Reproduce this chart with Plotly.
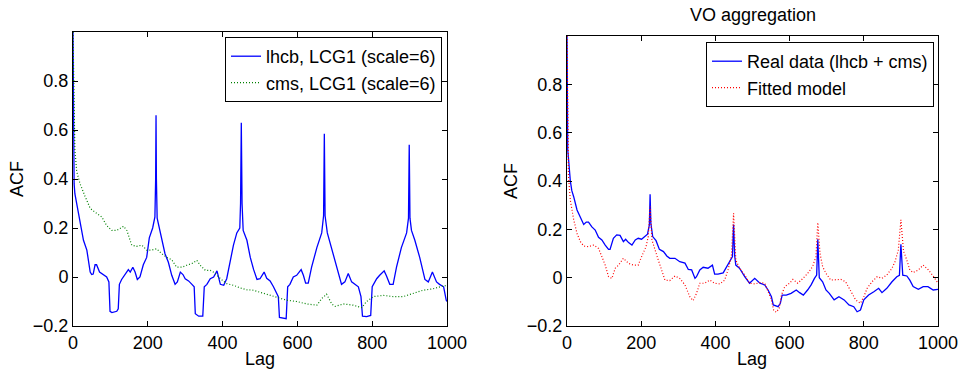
import plotly.graph_objects as go

# ---------------- data ----------------
lhcb_lag = [0, 1, 2, 3, 5, 14, 20, 28, 37, 46, 50, 54, 59, 63, 71, 81, 90, 96, 99, 104, 117, 121, 124, 130,
            139, 148, 153, 160, 166, 172, 179, 188, 197, 204, 213, 219, 221, 222, 223, 225, 228, 237, 246,
            255, 264, 273, 279, 287, 294, 300, 309, 318, 324, 327, 336, 347, 351, 358, 367, 376, 385, 394,
            403, 411, 420, 429, 438, 446, 448, 450, 452, 455, 465, 474, 483, 492, 500, 511, 518, 527, 536,
            545, 549, 552, 563, 570, 574, 580, 589, 598, 610, 616, 622, 629, 638, 652, 665, 670, 672, 674,
            680, 692, 705, 718, 727, 736, 745, 754, 763, 770, 774, 785, 796, 800, 812, 820, 832, 838, 847,
            856, 865, 878, 892, 897, 899, 901, 905, 914, 927, 941, 950, 961, 972, 980, 991, 998, 1000]
lhcb_acf = [1.0, 0.6, 0.42, 0.38, 0.34, 0.27, 0.21, 0.15, 0.11, 0.02, 0.01, 0.012, 0.05, 0.05, 0.02, 0.01,
            0.0, -0.02, -0.14, -0.145, -0.14, -0.13, -0.03, -0.01, 0.01, 0.03, 0.02, 0.04, 0.02, -0.01, 0.0,
            0.05, 0.08, 0.16, 0.2, 0.245, 0.4, 0.66, 0.4, 0.24, 0.22, 0.15, 0.095, 0.06, 0.007, -0.03, -0.02,
            0.02, 0.01, -0.007, -0.016, -0.03, -0.04, -0.15, -0.16, -0.16, -0.04, -0.03, -0.007, 0.0, 0.025,
            -0.03, -0.034, -0.007, 0.06, 0.13, 0.18, 0.2, 0.3, 0.63, 0.3, 0.19, 0.15, 0.08, 0.03, -0.01,
            -0.007, 0.02, -0.005, -0.016, -0.04, -0.07, -0.08, -0.165, -0.17, -0.17, -0.04, -0.03, 0.0,
            0.007, 0.03, 0.007, -0.025, -0.025, 0.04, 0.12, 0.18, 0.25, 0.585, 0.25, 0.18, 0.11, 0.04,
            -0.03, -0.02, 0.014, -0.02, -0.03, -0.04, -0.08, -0.16, -0.162, -0.157, -0.04, -0.007, 0.007,
            0.025, 0.005, -0.03, -0.03, 0.04, 0.12, 0.18, 0.24, 0.54, 0.24, 0.19, 0.15, 0.08, -0.01, -0.02,
            0.02, -0.02, -0.03, -0.04, -0.095, -0.1]

cms_lag = [0, 2, 5, 10, 19, 32, 46, 63, 77, 90, 104, 117, 135, 144, 157, 170, 184, 197, 210, 224, 237, 251,
           264, 277, 291, 304, 318, 331, 340, 354, 367, 380, 394, 411, 429, 446, 464, 482, 500, 518, 545,
           572, 598, 625, 652, 665, 678, 692, 701, 723, 749, 772, 785, 803, 830, 856, 883, 909, 936, 963,
           980, 994, 1000]
cms_acf = [1.0, 0.7, 0.52, 0.43, 0.38, 0.33, 0.28, 0.26, 0.245, 0.21, 0.19, 0.19, 0.207, 0.19, 0.13, 0.125,
           0.13, 0.11, 0.11, 0.115, 0.095, 0.08, 0.07, 0.04, 0.04, 0.048, 0.055, 0.068, 0.048, 0.027, 0.027,
           0.016, -0.007, -0.027, -0.034, -0.044, -0.052, -0.054, -0.062, -0.068, -0.08, -0.095, -0.10,
           -0.11, -0.115, -0.088, -0.07, -0.11, -0.12, -0.11, -0.115, -0.125, -0.10, -0.08, -0.075, -0.08,
           -0.08, -0.068, -0.054, -0.048, -0.04, -0.035, -0.04]

real_lag = [0, 1, 2, 9, 13, 18, 27, 36, 45, 52, 58, 67, 76, 85, 94, 103, 112, 116, 125, 134, 143, 152, 158,
            166, 175, 184, 192, 201, 210, 217, 222, 224, 226, 231, 240, 249, 260, 269, 277, 291, 304, 318,
            327, 336, 345, 349, 358, 367, 380, 392, 398, 407, 421, 430, 439, 446, 449, 452, 455, 465, 479,
            492, 506, 520, 533, 542, 551, 556, 569, 575, 580, 591, 604, 618, 627, 637, 649, 658, 667, 673,
            676, 680, 689, 698, 707, 720, 733, 747, 760, 773, 782, 791, 800, 813, 827, 840, 849, 862, 876,
            889, 896, 900, 905, 916, 924, 933, 947, 960, 973, 987, 1000]
real_acf = [1.0, 0.7, 0.53, 0.40, 0.36, 0.335, 0.28, 0.25, 0.22, 0.23, 0.23, 0.21, 0.197, 0.167, 0.156, 0.135,
            0.117, 0.117, 0.163, 0.177, 0.175, 0.149, 0.159, 0.145, 0.135, 0.156, 0.163, 0.159, 0.172, 0.18,
            0.218, 0.345, 0.225, 0.17, 0.153, 0.117, 0.108, 0.09, 0.08, 0.08, 0.066, 0.06, 0.034, 0.032,
            -0.003, 0.004, 0.032, 0.043, 0.039, 0.052, 0.015, 0.015, 0.02, 0.046, 0.073, 0.087, 0.22, 0.09,
            0.052, 0.039, 0.004, -0.023, -0.003, -0.023, -0.03, -0.051, -0.079, -0.113, -0.12, -0.106,
            -0.072, -0.072, -0.065, -0.051, -0.062, -0.072, -0.05, -0.03, -0.003, 0.011, 0.159, 0.0, -0.017,
            -0.051, -0.065, -0.092, -0.079, -0.092, -0.113, -0.12, -0.141, -0.134, -0.092, -0.072, -0.058,
            -0.044, -0.062, -0.044, -0.017, 0.004, 0.01, 0.138, 0.01, 0.007, -0.01, -0.037, -0.048, -0.037,
            -0.037, -0.051, -0.048]

fit_lag = [0, 2, 4, 9, 18, 27, 36, 45, 58, 72, 85, 94, 103, 112, 121, 130, 139, 152, 166, 179, 192, 201, 213,
           219, 224, 229, 237, 246, 255, 264, 277, 291, 304, 318, 331, 340, 349, 358, 371, 385, 398, 412,
           425, 434, 443, 449, 455, 465, 479, 492, 507, 520, 533, 542, 551, 557, 564, 572, 578, 587, 600,
           609, 622, 636, 649, 662, 671, 676, 682, 689, 698, 711, 724, 738, 751, 764, 778, 791, 800, 809,
           822, 836, 849, 862, 876, 884, 893, 900, 907, 916, 924, 933, 947, 960, 973, 987, 1000]
fit_acf = [1.0, 0.6, 0.42, 0.32, 0.24, 0.183, 0.149, 0.131, 0.128, 0.135, 0.121, 0.087, 0.052, 0.004, -0.003,
           0.039, 0.052, 0.08, 0.059, 0.052, 0.052, 0.087, 0.128, 0.17, 0.294, 0.156, 0.114, 0.073, 0.032,
           -0.01, -0.012, 0.007, -0.003, -0.03, -0.079, -0.095, -0.065, -0.023, -0.023, -0.01, -0.023,
           -0.026, -0.01, 0.032, 0.087, 0.266, 0.073, 0.039, 0.011, -0.023, -0.026, -0.02, -0.023, -0.058,
           -0.092, -0.134, -0.143, -0.127, -0.072, -0.037, -0.023, -0.007, -0.023, -0.003, 0.018, 0.046,
           0.087, 0.228, 0.1, 0.046, 0.018, -0.01, -0.01, -0.007, -0.017, -0.051, -0.092, -0.106, -0.079,
           -0.044, -0.017, 0.004, -0.003, 0.011, 0.039, 0.066, 0.114, 0.239, 0.11, 0.073, 0.032, 0.021,
           0.032, 0.052, 0.034, 0.007, -0.023]

x_ticks = [0, 200, 400, 600, 800, 1000]
y_ticks = [-0.2, 0, 0.2, 0.4, 0.6, 0.8]
y_tick_text = ["\u22120.2", "0", "0.2", "0.4", "0.6", "0.8"]

# ---------------- figure ----------------
W, H = 969, 372
FONT = "Liberation Sans, Arial, Helvetica, sans-serif"
FS = 18

fig = go.Figure()
fig.add_trace(go.Scatter(x=lhcb_lag, y=lhcb_acf, mode="lines", name="lhcb, LCG1 (scale=6)",
                         line=dict(color="#0000ff", width=1.3), xaxis="x", yaxis="y", legend="legend"))
fig.add_trace(go.Scatter(x=cms_lag, y=cms_acf, mode="lines", name="cms, LCG1 (scale=6)",
                         line=dict(color="#008000", width=1.2, dash="1px,2px"), xaxis="x", yaxis="y",
                         legend="legend"))
fig.add_trace(go.Scatter(x=real_lag, y=real_acf, mode="lines", name="Real data (lhcb + cms)",
                         line=dict(color="#0000ff", width=1.3), xaxis="x2", yaxis="y2", legend="legend2"))
fig.add_trace(go.Scatter(x=fit_lag, y=fit_acf, mode="lines", name="Fitted model",
                         line=dict(color="#ff0000", width=1.2, dash="1px,2px"), xaxis="x2", yaxis="y2",
                         legend="legend2"))

def px_x(p):
    return p / W

def px_y(p):
    return 1 - p / H

axis_common = dict(showline=True, linecolor="black", linewidth=1, mirror="ticks", ticks="inside",
                   ticklen=5, tickcolor="black", showgrid=False, zeroline=False,
                   tickfont=dict(family=FONT, size=FS, color="black"), automargin=False)

legend_common = dict(xanchor="right", yanchor="top", bgcolor="white", bordercolor="black", borderwidth=1,
                     font=dict(family=FONT, size=FS, color="black"), tracegroupgap=0, itemwidth=30)

fig.update_layout(
    width=W, height=H,
    margin=dict(l=0, r=0, t=0, b=0),
    paper_bgcolor="white", plot_bgcolor="white",
    font=dict(family=FONT, size=FS, color="black"),
    xaxis=dict(domain=[px_x(73), px_x(447)], range=[0, 1000], tickvals=x_ticks, anchor="y", **axis_common),
    yaxis=dict(domain=[px_y(326), px_y(32)], range=[-0.2, 1.0], tickvals=y_ticks, ticktext=y_tick_text,
               anchor="x", **axis_common),
    xaxis2=dict(domain=[px_x(567), px_x(938)], range=[0, 1000], tickvals=x_ticks, anchor="y2", **axis_common),
    yaxis2=dict(domain=[px_y(326), px_y(36)], range=[-0.2, 1.0], tickvals=y_ticks, ticktext=y_tick_text,
                anchor="x2", **axis_common),
    legend=dict(x=px_x(442), y=px_y(37), **legend_common),
    legend2=dict(x=px_x(934), y=px_y(42), **legend_common),
    showlegend=True,
    annotations=[
        dict(text="ACF", x=px_x(17), y=px_y(179), xref="paper", yref="paper", textangle=-90,
             showarrow=False, font=dict(family=FONT, size=FS, color="black"), xanchor="center", yanchor="middle"),
        dict(text="Lag", x=px_x(260), y=px_y(359), xref="paper", yref="paper",
             showarrow=False, font=dict(family=FONT, size=FS, color="black"), xanchor="center", yanchor="middle"),
        dict(text="ACF", x=px_x(511), y=px_y(181), xref="paper", yref="paper", textangle=-90,
             showarrow=False, font=dict(family=FONT, size=FS, color="black"), xanchor="center", yanchor="middle"),
        dict(text="Lag", x=px_x(752), y=px_y(359), xref="paper", yref="paper",
             showarrow=False, font=dict(family=FONT, size=FS, color="black"), xanchor="center", yanchor="middle"),
        dict(text="VO aggregation", x=px_x(753), y=px_y(15), xref="paper", yref="paper",
             showarrow=False, font=dict(family=FONT, size=FS, color="black"), xanchor="center", yanchor="middle"),
    ],
)

fig.write_html("out.html")
